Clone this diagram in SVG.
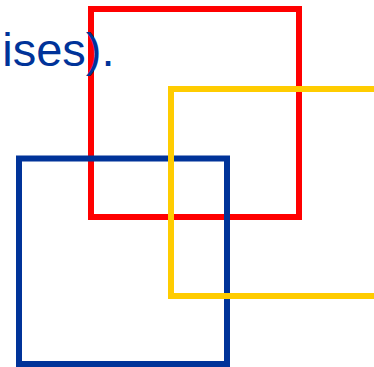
<svg xmlns="http://www.w3.org/2000/svg" width="374" height="367" viewBox="0 0 374 367">
<style>
.sq{fill:none;stroke-width:6}
.t{font-family:"Liberation Sans",Arial,sans-serif;font-size:47px;fill:#003399}
</style>
<rect width="374" height="367" fill="#fff"/>
<g id="red"><rect class="sq" x="91" y="9" width="208" height="208" stroke="#ff0000"/></g>
<g id="blue"><rect class="sq" x="19" y="158.5" width="208" height="205.5" stroke="#003399"/></g>
<g id="yellow"><rect class="sq" x="171" y="89" width="208" height="207" stroke="#ffcc00"/></g>
<text class="t" x="114.5" y="66" text-anchor="end">ises).</text>
</svg>
